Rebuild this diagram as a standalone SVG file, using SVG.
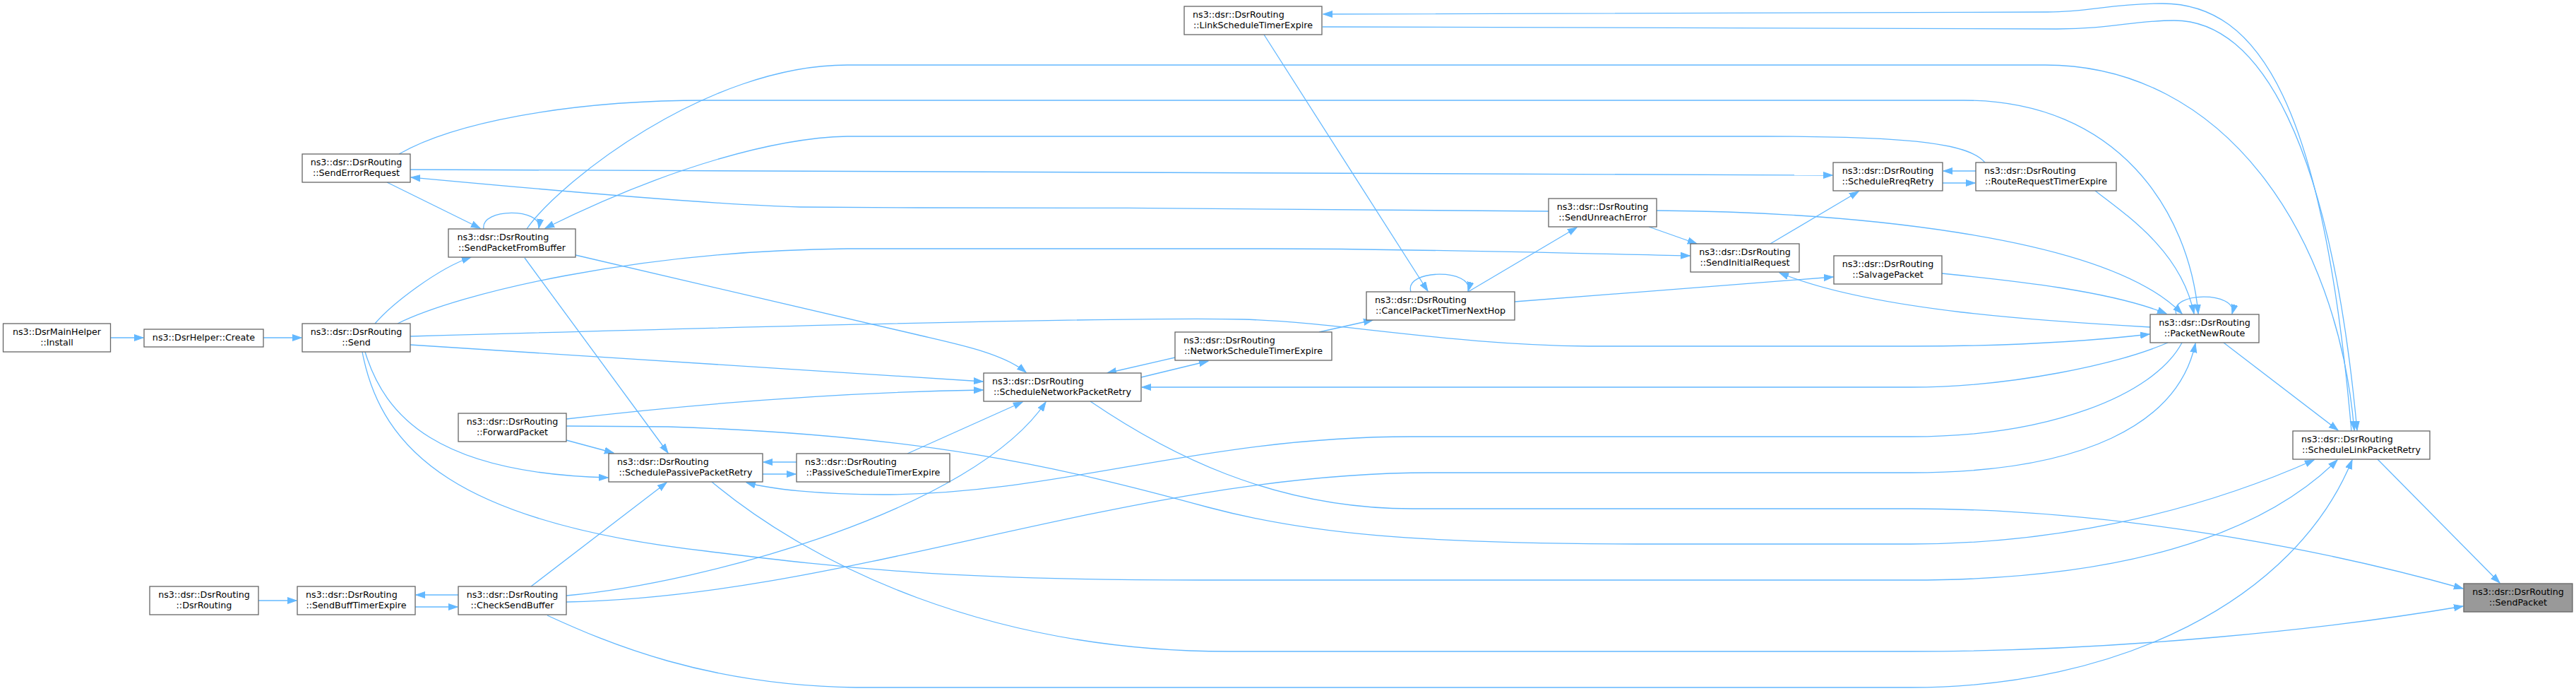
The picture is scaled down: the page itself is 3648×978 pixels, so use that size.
<svg xmlns="http://www.w3.org/2000/svg" width="3648" height="978" viewBox="0 0 3648 978">
<style>
.n rect{fill:#ffffff;stroke:#666666;stroke-width:1.3}
.n.h rect{fill:#999999}
.n text{font-family:"DejaVu Sans","Liberation Sans",sans-serif;font-size:12.7px;fill:#000000}
.m{text-anchor:middle}
.s{text-anchor:start}
#edges path{fill:none;stroke:#63b8ff;stroke-width:1.3;marker-end:url(#a)}
</style>
<defs>
<marker id="a" markerWidth="14" markerHeight="11" refX="13" refY="5" orient="auto" markerUnits="userSpaceOnUse">
<path d="M0,0.5 L13,5 L0,9.5 z" fill="#63b8ff" stroke="#63b8ff" stroke-width="1"/>
</marker>
</defs>
<rect width="3648" height="978" fill="#ffffff"/>
<g id="edges">
<path d="M156,478 L203,478"/>
<path d="M373,478 L427,478"/>
<path d="M366,850 L420,850"/>
<path d="M588,859 L648,859"/>
<path d="M649,842 L589,842"/>
<path d="M531,458 C555,430 620,380 667,364"/>
<path d="M548,258 L680,323"/>
<path d="M685,324 C680,294 768,294 763,323"/>
<path d="M2811,230 C2790,205 2720,193 2499,193 L1200,193 C1100,195 950,235 772,323"/>
<path d="M746,324 C790,260 1000,92 1200,92 L2896,92 C3150,92 3310,330 3334,609"/>
<path d="M565,218 C640,175 800,142 1000,142 L2781,142 C3000,142 3100,300 3113,444"/>
<path d="M581,240 L2595,248"/>
<path d="M2193,299 C1950,295 1600,294 1300,294 L1133,293 C1000,290 700,262 582,251"/>
<path d="M563,458 C650,415 900,355 1200,352 L1791,352 C2000,352 2200,358 2393,362"/>
<path d="M815,361 L1300,474 C1360,488 1420,500 1453,527"/>
<path d="M581,476 C1000,464 1600,448 1760,452 C1900,456 2050,488 2250,490 L2706,490 C2850,490 2950,484 3044,473"/>
<path d="M581,488 L1392,540"/>
<path d="M743,365 L946,641"/>
<path d="M517,498 C545,590 620,670 861,676"/>
<path d="M513,498 C540,640 650,740 1000,780 C1200,805 1350,821 1700,821 L2706,821 C3000,821 3200,760 3310,651"/>
<path d="M802,593 C1000,570 1200,555 1392,552"/>
<path d="M802,603 L946,604 C1300,615 1500,660 1711,718 C1850,755 2000,770 2350,770 L2706,770 C2900,770 3100,730 3277,651"/>
<path d="M802,623 L869,641"/>
<path d="M802,843 C1000,825 1380,720 1481,569"/>
<path d="M802,852 C1200,845 1600,669 2027,669 L2706,669 C2950,669 3085,600 3109,486"/>
<path d="M775,871 C860,910 1000,970 1213,973 L2706,973 C3000,973 3250,850 3331,651"/>
<path d="M752,830 L944,683"/>
<path d="M1008,682 C1150,800 1400,922 1740,922 L2706,922 C3000,922 3300,890 3488,858"/>
<path d="M1544,568 C1650,640 1800,720 2000,720 L2706,720 C3000,720 3300,780 3488,833"/>
<path d="M1128,654 L1081,654"/>
<path d="M1080,671 L1127,671"/>
<path d="M1285,642 L1448,569"/>
<path d="M1664,506 L1568,528"/>
<path d="M1616,534 L1711,511"/>
<path d="M3070,485 C3000,515 2850,548 2706,548 L1617,548"/>
<path d="M3090,485 C3050,560 2900,618 2706,618 L1998,618 C1700,618 1500,700 1250,700 C1160,700 1090,692 1057,683"/>
<path d="M1868,470 L1944,453"/>
<path d="M1790,49 L2022,412"/>
<path d="M1998,413 C1988,380 2088,380 2079,412"/>
<path d="M2079,413 L2233,322"/>
<path d="M2145,427 L2596,392"/>
<path d="M2335,321 L2403,345"/>
<path d="M2346,298 C2600,300 2980,330 3090,444"/>
<path d="M2507,345 L2632,271"/>
<path d="M2798,242 L2752,242"/>
<path d="M2751,259 L2797,259"/>
<path d="M2967,270 C3020,310 3090,360 3107,444"/>
<path d="M2750,387 C2850,397 2990,412 3068,444"/>
<path d="M3082,445 C3070,412 3170,412 3161,444"/>
<path d="M3045,463 C2900,455 2650,440 2520,386"/>
<path d="M3149,485 L3311,609"/>
<path d="M3330,610 C3290,150 3200,5 3062,5 C2990,5 2960,17 2900,17 L1874,20"/>
<path d="M1873,38 L2913,41 C2990,41 3020,29 3079,29 C3200,29 3300,200 3338,609"/>
<path d="M3367,650 L3540,825"/>
</g>
<g id="n_install" class="n"><rect x="4.5" y="458" width="152" height="40"/><text class="m" x="80.5" y="474.3">ns3::DsrMainHelper</text><text class="m" x="80.5" y="488.8">::Install</text></g>
<g id="n_create" class="n"><rect x="204" y="466" width="169" height="25"/><text class="m" x="288.5" y="482.3">ns3::DsrHelper::Create</text></g>
<g id="n_send" class="n"><rect x="428" y="458" width="153" height="40"/><text class="m" x="504.5" y="474.3">ns3::dsr::DsrRouting</text><text class="m" x="504.5" y="488.8">::Send</text></g>
<g id="n_senderrorrequest" class="n"><rect x="428" y="218" width="153" height="40"/><text class="m" x="504.5" y="234.3">ns3::dsr::DsrRouting</text><text class="m" x="504.5" y="248.8">::SendErrorRequest</text></g>
<g id="n_sendpacketfrombuffer" class="n"><rect x="635" y="324" width="180" height="40"/><text class="s" x="647.5" y="340.3">ns3::dsr::DsrRouting</text><text class="m" x="725" y="354.8">::SendPacketFromBuffer</text></g>
<g id="n_forwardpacket" class="n"><rect x="649" y="585" width="153" height="40"/><text class="m" x="725.5" y="601.3">ns3::dsr::DsrRouting</text><text class="m" x="725.5" y="615.8">::ForwardPacket</text></g>
<g id="n_dsrrouting" class="n"><rect x="212" y="830" width="154" height="40"/><text class="m" x="289" y="846.3">ns3::dsr::DsrRouting</text><text class="m" x="289" y="860.8">::DsrRouting</text></g>
<g id="n_sendbufftimerexpire" class="n"><rect x="421" y="830" width="167" height="40"/><text class="s" x="433" y="846.3">ns3::dsr::DsrRouting</text><text class="m" x="504.5" y="860.8">::SendBuffTimerExpire</text></g>
<g id="n_checksendbuffer" class="n"><rect x="649" y="830" width="153" height="40"/><text class="m" x="725.5" y="846.3">ns3::dsr::DsrRouting</text><text class="m" x="725.5" y="860.8">::CheckSendBuffer</text></g>
<g id="n_schedulepassivepacketretry" class="n"><rect x="862" y="642" width="218" height="40"/><text class="s" x="874" y="658.3">ns3::dsr::DsrRouting</text><text class="m" x="971" y="672.8">::SchedulePassivePacketRetry</text></g>
<g id="n_passivescheduletimerexpire" class="n"><rect x="1128" y="642" width="217" height="40"/><text class="s" x="1140" y="658.3">ns3::dsr::DsrRouting</text><text class="m" x="1236.5" y="672.8">::PassiveScheduleTimerExpire</text></g>
<g id="n_schedulenetworkpacketretry" class="n"><rect x="1393" y="528" width="223" height="40"/><text class="s" x="1405" y="544.3">ns3::dsr::DsrRouting</text><text class="m" x="1504.5" y="558.8">::ScheduleNetworkPacketRetry</text></g>
<g id="n_networkscheduletimerexpire" class="n"><rect x="1664" y="470" width="222" height="40"/><text class="s" x="1676" y="486.3">ns3::dsr::DsrRouting</text><text class="m" x="1775" y="500.8">::NetworkScheduleTimerExpire</text></g>
<g id="n_cancelpackettimernexthop" class="n"><rect x="1935" y="413" width="210" height="40"/><text class="s" x="1947" y="429.3">ns3::dsr::DsrRouting</text><text class="m" x="2040" y="443.8">::CancelPacketTimerNextHop</text></g>
<g id="n_linkscheduletimerexpire" class="n"><rect x="1677" y="9" width="195" height="40"/><text class="s" x="1689" y="25.3">ns3::dsr::DsrRouting</text><text class="m" x="1774.5" y="39.8">::LinkScheduleTimerExpire</text></g>
<g id="n_sendunreacherror" class="n"><rect x="2193" y="281" width="153" height="40"/><text class="m" x="2269.5" y="297.3">ns3::dsr::DsrRouting</text><text class="m" x="2269.5" y="311.8">::SendUnreachError</text></g>
<g id="n_sendinitialrequest" class="n"><rect x="2394" y="345" width="154" height="40"/><text class="m" x="2471" y="361.3">ns3::dsr::DsrRouting</text><text class="m" x="2471" y="375.8">::SendInitialRequest</text></g>
<g id="n_schedulerreqretry" class="n"><rect x="2596" y="230" width="155" height="40"/><text class="m" x="2673.5" y="246.3">ns3::dsr::DsrRouting</text><text class="m" x="2673.5" y="260.8">::ScheduleRreqRetry</text></g>
<g id="n_routerequesttimerexpire" class="n"><rect x="2798" y="230" width="199" height="40"/><text class="s" x="2810" y="246.3">ns3::dsr::DsrRouting</text><text class="m" x="2897.5" y="260.8">::RouteRequestTimerExpire</text></g>
<g id="n_salvagepacket" class="n"><rect x="2597" y="362" width="153" height="40"/><text class="m" x="2673.5" y="378.3">ns3::dsr::DsrRouting</text><text class="m" x="2673.5" y="392.8">::SalvagePacket</text></g>
<g id="n_packetnewroute" class="n"><rect x="3045" y="445" width="154" height="40"/><text class="m" x="3122" y="461.3">ns3::dsr::DsrRouting</text><text class="m" x="3122" y="475.8">::PacketNewRoute</text></g>
<g id="n_schedulelinkpacketretry" class="n"><rect x="3247" y="610" width="194" height="40"/><text class="s" x="3259" y="626.3">ns3::dsr::DsrRouting</text><text class="m" x="3344" y="640.8">::ScheduleLinkPacketRetry</text></g>
<g id="n_sendpacket" class="n h"><rect x="3489" y="826" width="154" height="40"/><text class="m" x="3566" y="842.3">ns3::dsr::DsrRouting</text><text class="m" x="3566" y="856.8">::SendPacket</text></g>
</svg>
